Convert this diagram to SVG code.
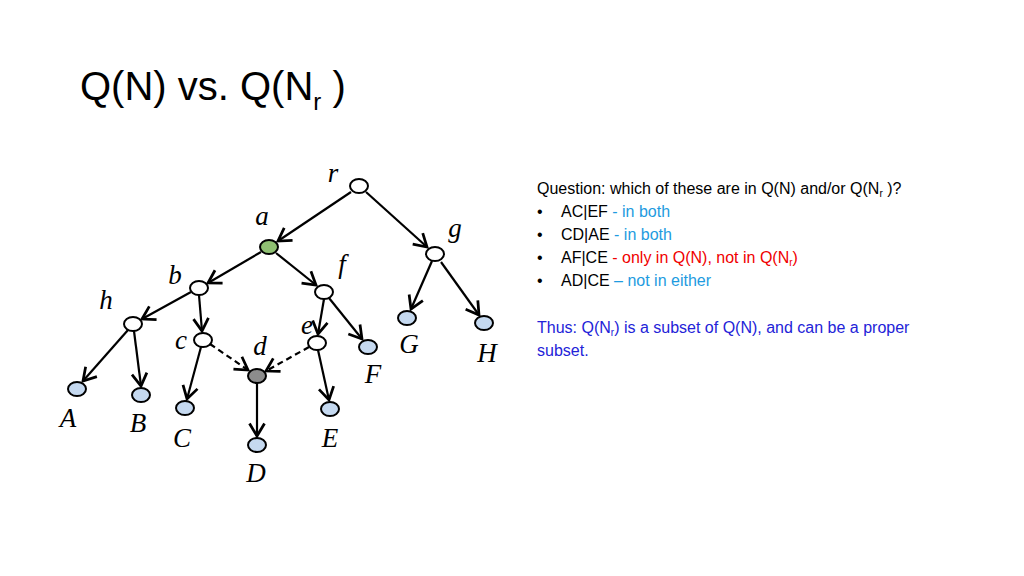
<svg xmlns="http://www.w3.org/2000/svg" width="1024" height="576" viewBox="0 0 1024 576">
<style>
.n{fill:#fff;stroke:#000;stroke-width:2}
.l{fill:#c5d9f0;stroke:#000;stroke-width:2}
.e{stroke:#000;stroke-width:2.2;fill:none;marker-end:url(#ah)}
.d{stroke-dasharray:6,4}
.lab{font-family:"Liberation Serif",serif;font-style:italic;font-size:27px;fill:#000;text-anchor:middle}
.t{font-family:"Liberation Sans",Arial,sans-serif;font-size:16px;fill:#000}
.b{fill:#1e9be0}.r{fill:#f00000}.db{fill:#2323d8}
</style>
<defs><marker id="ah" markerUnits="userSpaceOnUse" markerWidth="20" markerHeight="20" viewBox="-12 -8 14 16" refX="0" refY="0" orient="auto"><path d="M-10,-6 L0,0 L-10,6" fill="none" stroke="#000" stroke-width="2.2"/></marker></defs>
<rect width="1024" height="576" fill="#fff"/>
<text x="80" y="100" font-family="Liberation Sans,Arial,sans-serif" font-size="40">Q(N) vs. Q(N<tspan font-size="24" dy="10">r</tspan><tspan dy="-10"> )</tspan></text>
<g id="edges">
<line class="e" x1="351" y1="192" x2="278" y2="241"/>
<line class="e" x1="366" y1="192" x2="427" y2="247"/>
<line class="e" x1="261" y1="252" x2="208" y2="283"/>
<line class="e" x1="276" y1="253" x2="316" y2="285"/>
<line class="e" x1="191" y1="292" x2="142" y2="319"/>
<line class="e" x1="199" y1="295" x2="202" y2="331"/>
<line class="e" x1="324" y1="299" x2="318" y2="334"/>
<line class="e" x1="329" y1="298" x2="362" y2="339"/>
<line class="e" x1="432" y1="261" x2="411" y2="309"/>
<line class="e" x1="441" y1="262" x2="479" y2="315"/>
<line class="e" x1="128" y1="330" x2="83" y2="381"/>
<line class="e" x1="134" y1="331" x2="141" y2="386"/>
<line class="e" x1="201" y1="347" x2="187" y2="399"/>
<line class="e d" x1="210" y1="344" x2="248" y2="370"/>
<line class="e d" x1="309" y1="347" x2="266" y2="371"/>
<line class="e" x1="318" y1="350" x2="329" y2="400"/>
<line class="e" x1="257" y1="383" x2="257" y2="436"/>
</g>
<g id="r"><ellipse class="n" cx="359" cy="186" rx="9" ry="7"/><text class="lab" x="333" y="182">r</text></g>
<g id="a"><ellipse cx="269" cy="247" rx="9" ry="7" fill="#8fbf72" stroke="#000" stroke-width="2"/><text class="lab" x="262" y="225">a</text></g>
<g id="g"><ellipse class="n" cx="435" cy="254" rx="9" ry="7"/><text class="lab" x="455" y="237">g</text></g>
<g id="b"><ellipse class="n" cx="199" cy="288" rx="9" ry="7"/><text class="lab" x="175" y="284">b</text></g>
<g id="f"><ellipse class="n" cx="324" cy="292" rx="9" ry="7"/><text class="lab" x="342" y="273">f</text></g>
<g id="h"><ellipse class="n" cx="133" cy="324" rx="9" ry="7"/><text class="lab" x="106" y="309">h</text></g>
<g id="c"><ellipse class="n" cx="203" cy="340" rx="9" ry="7"/><text class="lab" x="181" y="349">c</text></g>
<g id="e"><ellipse class="n" cx="317" cy="343" rx="9" ry="7"/><text class="lab" x="307" y="334">e</text></g>
<g id="d"><ellipse cx="257" cy="376" rx="9" ry="7" fill="#8c8c8c" stroke="#000" stroke-width="2"/><text class="lab" x="260" y="355">d</text></g>
<g id="A"><ellipse class="l" cx="77" cy="389" rx="9" ry="7"/><text class="lab" x="68" y="427">A</text></g>
<g id="B"><ellipse class="l" cx="141" cy="395" rx="9" ry="7"/><text class="lab" x="138" y="432">B</text></g>
<g id="C"><ellipse class="l" cx="185" cy="408" rx="9" ry="7"/><text class="lab" x="182" y="447">C</text></g>
<g id="D"><ellipse class="l" cx="257" cy="445" rx="9" ry="7"/><text class="lab" x="256" y="482">D</text></g>
<g id="E"><ellipse class="l" cx="330" cy="409" rx="9" ry="7"/><text class="lab" x="330" y="447">E</text></g>
<g id="F"><ellipse class="l" cx="368" cy="347" rx="9" ry="7"/><text class="lab" x="373" y="383">F</text></g>
<g id="G"><ellipse class="l" cx="407" cy="318" rx="9" ry="7"/><text class="lab" x="409" y="353">G</text></g>
<g id="H"><ellipse class="l" cx="484" cy="323" rx="9" ry="7"/><text class="lab" x="487" y="362">H</text></g>
<g id="notes">
<text class="t" x="537" y="194">Question:  which of these are in Q(N) and/or Q(N<tspan font-size="10" dy="3">r</tspan><tspan dy="-3"> )?</tspan></text>
<text class="t" x="537" y="217">•</text><text class="t" x="561" y="217">AC|EF <tspan class="b">- in both</tspan></text>
<text class="t" x="537" y="240">•</text><text class="t" x="561" y="240">CD|AE <tspan class="b">- in both</tspan></text>
<text class="t" x="537" y="263">•</text><text class="t" x="561" y="263">AF|CE  <tspan class="r">- only in Q(N), not in Q(N<tspan font-size="10" dy="3">r</tspan><tspan dy="-3">)</tspan></tspan></text>
<text class="t" x="537" y="286">•</text><text class="t" x="561" y="286">AD|CE <tspan class="b">– not in either</tspan></text>
<text class="t db" x="537" y="333">Thus: Q(N<tspan font-size="10" dy="3">r</tspan><tspan dy="-3">) is a subset of Q(N), and can be a proper</tspan></text>
<text class="t db" x="537" y="356">subset.</text>
</g>
</svg>
